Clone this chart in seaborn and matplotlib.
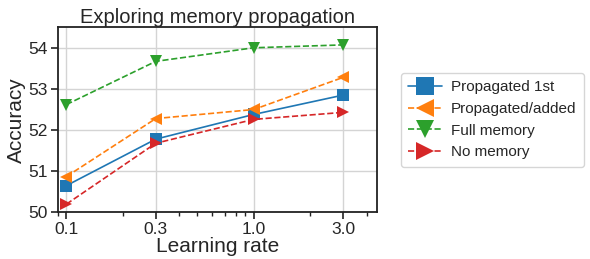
import pandas as pd
import matplotlib
matplotlib.use("Agg")
import matplotlib.pyplot as plt
import seaborn as sns

learning_rates = [0.1, 0.3, 1.0, 3.0]
tick_labels = ["0.1", "0.3", "1.0", "3.0"]
propagated_1st = [50.65, 51.78, 52.38, 52.85]
propagated_added = [50.87, 52.28, 52.50, 53.28]
full_memory = [52.62, 53.67, 54.00, 54.07]
no_memory = [50.20, 51.68, 52.26, 52.43]

series = [
    ("Propagated 1st", propagated_1st, "s", "-", "#1f77b4"),
    ("Propagated/added", propagated_added, "<", "--", "#ff7f0e"),
    ("Full memory", full_memory, "v", "--", "#2ca02c"),
    ("No memory", no_memory, ">", "--", "#d62728"),
]

sns.set_style("ticks", {"axes.grid": True, "grid.color": "#d4d4d4"})
plt.rcParams["font.family"] = ["Liberation Sans", "DejaVu Sans"]

fig, ax = plt.subplots(figsize=(5.9, 2.59), dpi=100)
for name, vals, marker, ls, color in series:
    df = pd.DataFrame({"lr": learning_rates, "acc": vals})
    sns.lineplot(data=df, x="lr", y="acc", ax=ax, label=name, color=color,
                 marker=marker, markersize=9, linestyle=ls, linewidth=1.2,
                 markeredgewidth=0)

ax.set_xscale("log")
ax.set_xlim(0.09, 4.55)
ax.set_ylim(50, 54.5)
ax.set_xticks(learning_rates)
ax.set_xticklabels(tick_labels)
ax.set_yticks([50, 51, 52, 53, 54])
ax.tick_params(axis="both", which="major", labelsize=12.5, direction="out",
               length=5, width=1.2, color="#222222", pad=2)
ax.tick_params(axis="x", which="minor", length=3, width=1, color="#222222")
ax.set_xlabel("Learning rate", fontsize=15, labelpad=0)
ax.set_ylabel("Accuracy", fontsize=15, labelpad=2)
ax.set_title("Exploring memory propagation", fontsize=14.5, pad=2)
ax.grid(True, which="major", color="#d4d4d4", linewidth=1)
ax.grid(False, which="minor")
for s in ax.spines.values():
    s.set_linewidth(1.3)
    s.set_color("#222222")

leg = ax.legend(loc="center left", bbox_to_anchor=(1.05, 0.5), fontsize=11,
                markerscale=1.5, handlelength=2.2, handletextpad=0.6,
                borderpad=0.5, frameon=True)
leg.get_frame().set_edgecolor("#cccccc")

fig.subplots_adjust(left=0.098, right=0.639, top=0.895, bottom=0.18)
fig.savefig("out.png", dpi=100)
